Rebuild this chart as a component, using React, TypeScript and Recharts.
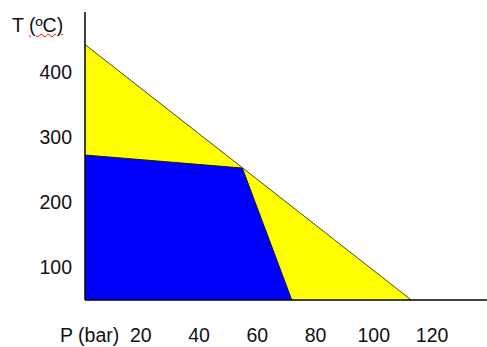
import React from 'react';
import { ComposedChart, Area, XAxis, YAxis } from 'recharts';

// Outer boundary (yellow region upper edge): P (bar) vs T (°C)
const boundaryP = [0, 112];
const boundaryT = [443, 50];
// Inner region (blue) upper edge
const innerP = [0, 54, 71];
const innerT = [273, 253, 50];

const xTicks = [20, 40, 60, 80, 100, 120];
const yTicks = [100, 200, 300, 400];

const yellowData = boundaryP.map((p, i) => ({ p, t: boundaryT[i] }));
const blueData = innerP.map((p, i) => ({ p, t: innerT[i] }));

const FONT = '"Liberation Sans", Arial, sans-serif';
const FS = 19.5;

const XTick = (props: any) => {
  const { x, y, payload } = props;
  return (
    <text x={x - 2.5} y={y} dy={13.8} textAnchor="middle" fill="#111" fontSize={FS} fontFamily={FONT}>
      {payload.value}
    </text>
  );
};

const YTick = (props: any) => {
  const { x, y, payload } = props;
  return (
    <text x={x} y={y} dy={7} textAnchor="end" fill="#111" fontSize={FS} fontFamily={FONT}>
      {payload.value}
    </text>
  );
};

export default function App() {
  return (
    <div style={{ position: 'absolute', left: 0, top: 0, width: 487, height: 347, background: '#fff' }}>
      <ComposedChart width={487} height={347} margin={{ top: 12, right: 0, bottom: 0, left: 0 }}>
        <XAxis
          type="number"
          dataKey="p"
          domain={[0, 138]}
          ticks={xTicks}
          allowDataOverflow
          height={47}
          tickLine={false}
          tickSize={0}
          tickMargin={28}
          axisLine={{ stroke: '#000', strokeWidth: 1.5 }}
          tick={<XTick />}
        />
        <YAxis
          type="number"
          dataKey="t"
          domain={[50, 493]}
          ticks={yTicks}
          allowDataOverflow
          width={85}
          tickLine={false}
          tickSize={0}
          tickMargin={13}
          axisLine={{ stroke: '#000', strokeWidth: 1.5 }}
          tick={<YTick />}
        />
        <Area
          data={yellowData}
          dataKey="t"
          type="linear"
          fill="#FFFF00"
          fillOpacity={1}
          stroke="#444"
          strokeWidth={1}
          isAnimationActive={false}
          dot={false}
          activeDot={false}
        />
        <Area
          data={blueData}
          dataKey="t"
          type="linear"
          fill="#0000FF"
          fillOpacity={1}
          stroke="#1a1a33"
          strokeWidth={1}
          isAnimationActive={false}
          dot={false}
          activeDot={false}
        />
      </ComposedChart>
      <div
        style={{
          position: 'absolute',
          left: 12,
          top: 15,
          fontFamily: FONT,
          fontSize: FS,
          lineHeight: '20px',
          color: '#111',
          whiteSpace: 'nowrap',
        }}
      >
        T{' '}
        <span style={{ textDecoration: 'underline wavy red', textDecorationThickness: 1 }}>(ºC)</span>
      </div>
      <div
        style={{
          position: 'absolute',
          left: 60,
          top: 325,
          fontFamily: FONT,
          fontSize: FS,
          lineHeight: '20px',
          color: '#111',
          whiteSpace: 'nowrap',
        }}
      >
        P (bar)
      </div>
    </div>
  );
}
